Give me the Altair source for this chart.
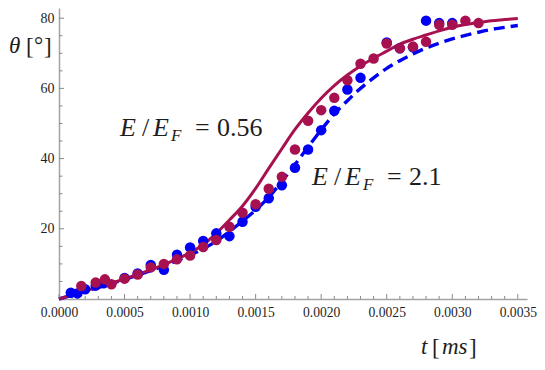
import altair as alt
import pandas as pd

# ---------------- data ----------------
# measured points, E/E_F = 2.1 (blue)
blue_t = [0.00009, 0.00014, 0.00020, 0.00028, 0.00034, 0.0005, 0.0006, 0.0007, 0.0008,
          0.0009, 0.0010, 0.0011, 0.0012, 0.0013, 0.0014, 0.0015, 0.0016, 0.0017, 0.0018,
          0.0019, 0.0020, 0.0021, 0.0022, 0.0023, 0.0025, 0.0026, 0.0027, 0.0028, 0.0029,
          0.0030]
blue_theta = [1.8, 1.6, 2.8, 3.8, 4.5, 6.0, 7.3, 9.7, 8.3,
              12.6, 14.7, 16.5, 18.7, 17.9, 22.0, 26.3, 28.7, 32.4, 37.4,
              42.6, 48.1, 53.6, 59.7, 63.0, 73.1, 71.4, 71.7, 79.3, 78.6,
              78.6]

# measured points, E/E_F = 0.56 (crimson)
red_t = [0.00017, 0.00028, 0.00035, 0.0004, 0.0005, 0.0006, 0.0007, 0.0008, 0.0009,
         0.0010, 0.0011, 0.0012, 0.0013, 0.0014, 0.0015, 0.0016, 0.0017, 0.0018,
         0.0019, 0.0020, 0.0021, 0.0022, 0.0023, 0.0024, 0.0025, 0.0026, 0.0027,
         0.0028, 0.0029, 0.0030, 0.0031, 0.0032]
red_theta = [3.7, 4.7, 5.6, 4.2, 5.8, 7.0, 9.0, 10.0, 11.3,
             12.4, 14.8, 16.8, 20.6, 24.6, 27.0, 31.4, 34.8, 42.6,
             50.8, 53.8, 57.3, 62.3, 67.0, 68.5, 72.8, 71.4, 71.9,
             73.3, 78.1, 78.1, 79.3, 78.6]

# theory curves
curve_t = [0.0, 0.0002, 0.0004, 0.0006, 0.0008, 0.0010, 0.0011, 0.0012, 0.0013, 0.0014,
           0.0015, 0.0016, 0.0017, 0.0018, 0.0019, 0.0020, 0.0021, 0.0022, 0.0023,
           0.0024, 0.0025, 0.0026, 0.0027, 0.0028, 0.0029, 0.0030, 0.0031, 0.0032,
           0.0033, 0.0034, 0.0035]
red_curve = [0.0, 2.3, 4.5, 7.0, 9.8, 13.2, 15.5, 18.7, 22.5, 26.5,
             31.5, 37.2, 42.8, 48.3, 53.0, 57.2, 60.8, 63.8, 66.4,
             68.6, 70.6, 72.6, 74.0, 75.2, 76.4, 77.4, 78.2, 78.8,
             79.3, 79.6, 79.9]
blue_curve = [0.0, 2.2, 4.4, 6.8, 9.4, 12.5, 14.3, 16.5, 19.2, 22.2,
              25.3, 29.0, 33.5, 38.3, 43.3, 48.2, 52.7, 56.5, 60.0,
              63.0, 65.7, 67.9, 69.8, 71.5, 72.9, 74.1, 75.1, 76.0,
              76.8, 77.4, 77.9]

# ticks
x_major = [0.0, 0.0005, 0.0010, 0.0015, 0.0020, 0.0025, 0.0030, 0.0035]
x_minor = [i / 10000 for i in range(0, 36) if i % 5 != 0]
y_major = [20, 40, 60, 80]
y_minor = [5, 10, 15, 25, 30, 35, 45, 50, 55, 65, 70, 75]

# annotations
ann_t = [0.000465, 0.00193]
ann_theta = [46.4, 32.5]
ann_value = ["0.56", "2.1"]

# ---------------- styling ----------------
BLUE = "#0000F5"
RED = "#A8114F"
AXIS_GRAY = "#a3a3a3"
TICK_GRAY = "#8a8a8a"
TXT = "#1e1e1e"
FONT = "Liberation Serif"
W, H = 468, 291

xs = alt.Scale(domain=[0, 0.00357], nice=False, zero=False)
ys = alt.Scale(domain=[0, 82.9], nice=False, zero=False)

pts_blue = pd.DataFrame({"t": blue_t, "theta": blue_theta})
pts_red = pd.DataFrame({"t": red_t, "theta": red_theta})
curves = pd.DataFrame({"t": curve_t, "red": red_curve, "blue": blue_curve})
ann = pd.DataFrame({"t": ann_t, "theta": ann_theta, "val": ann_value})
one = pd.DataFrame({"a": [0]})

x_axis = alt.Axis(values=x_major, format=".4f", ticks=False, grid=False, title=None,
                  labelFont=FONT, labelFontSize=13.6, labelColor=TXT, labelPadding=6,
                  labelFlush=False, labelOverlap=False, labelBound=False,
                  domainColor=AXIS_GRAY, domainWidth=1.5)
y_axis = alt.Axis(values=y_major, format="d", ticks=False, grid=False, title=None,
                  labelFont=FONT, labelFontSize=14, labelColor=TXT, labelPadding=5,
                  labelFlush=False, labelOverlap=False, domainColor=AXIS_GRAY,
                  domainWidth=1.5)


def X(field):
    return alt.X(field, scale=xs, axis=x_axis)


def Y(field):
    return alt.Y(field, scale=ys, axis=y_axis)


blue_line = alt.Chart(curves).mark_line(
    color=BLUE, strokeWidth=3.4, strokeDash=[11, 6], interpolate="monotone"
).encode(x=X("t:Q"), y=Y("blue:Q"))
red_line = alt.Chart(curves).mark_line(
    color=RED, strokeWidth=3, interpolate="monotone"
).encode(x=X("t:Q"), y=Y("red:Q"))
blue_pts = alt.Chart(pts_blue).mark_circle(size=110, opacity=1, color=BLUE).encode(
    x=X("t:Q"), y=Y("theta:Q"))
red_pts = alt.Chart(pts_red).mark_circle(size=110, opacity=1, color=RED).encode(
    x=X("t:Q"), y=Y("theta:Q"))


# inward ticks
def xticks(vals, length):
    return alt.Chart(pd.DataFrame({"v": vals})).mark_rule(color=TICK_GRAY, strokeWidth=1).encode(
        x=X("v:Q"), y=alt.value(H), y2=alt.value(H - length))


def yticks(vals, length):
    return alt.Chart(pd.DataFrame({"v": vals})).mark_rule(color=TICK_GRAY, strokeWidth=1).encode(
        y=Y("v:Q"), x=alt.value(0), x2=alt.value(length))


tick_layers = [xticks(x_major, 5), xticks(x_minor, 3), yticks(y_major, 5), yticks(y_minor, 3.5)]


# annotation pieces: E / E_F = value
def piece(text, dx, dy, size, style, field=None):
    kw = {} if field else {"text": text}
    m = alt.Chart(ann).mark_text(align="left", baseline="alphabetic", dx=dx, dy=dy,
                                 font=FONT, fontSize=size, fontStyle=style, color=TXT, **kw)
    enc = dict(x=X("t:Q"), y=Y("theta:Q"))
    if field:
        enc["text"] = alt.Text(field + ":N")
    return m.encode(**enc)


ann_layers = [
    piece("E", 0, 0, 26, "italic"),
    piece("/", 22, 0, 26, "normal"),
    piece("E", 33, 0, 26, "italic"),
    piece("F", 51, 5, 17, "italic"),
    piece("=", 75, 0, 26, "normal"),
    piece("", 97, 0, 26, "normal", field="val"),
]


# axis titles
def title_piece(text, x, y, size, style):
    return alt.Chart(one).mark_text(align="left", baseline="alphabetic", font=FONT,
                                    fontSize=size, fontStyle=style, color=TXT, text=text).encode(
        x=alt.value(x), y=alt.value(y))


title_layers = [
    title_piece("θ", -50, 45, 23, "italic"),
    title_piece("[", -33, 46, 23, "normal"),
    title_piece("°", -25, 45, 23, "normal"),
    title_piece("]", -15, 46, 23, "normal"),
    title_piece("t", 362, 346, 23, "italic"),
    title_piece("[", 373, 347, 23, "normal"),
    title_piece("ms", 383, 346, 23, "italic"),
    title_piece("]", 410, 347, 23, "normal"),
]

chart = alt.layer(
    blue_line, *tick_layers, red_line, blue_pts, red_pts, *ann_layers, *title_layers
).properties(
    width=W, height=H,
    autosize=alt.AutoSizeParams(type="none"),
    padding={"left": 51, "top": 0, "right": 10, "bottom": 61},
).configure_view(stroke=None)

chart.save("out.html", embed_options={"renderer": "svg", "actions": False})
